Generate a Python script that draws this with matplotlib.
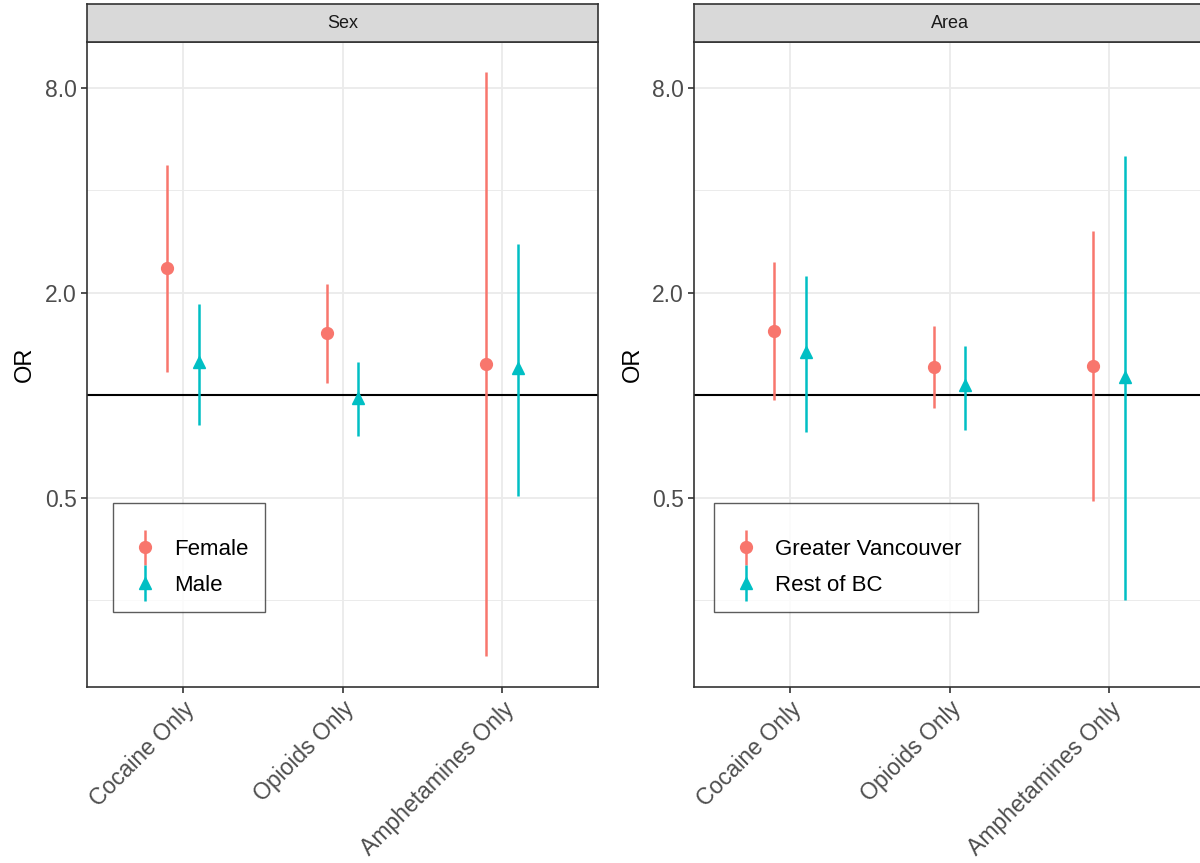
import matplotlib
matplotlib.use('Agg')
import matplotlib.pyplot as plt
import numpy as np
from matplotlib.ticker import FixedLocator, NullFormatter
from matplotlib.legend_handler import HandlerErrorbar

plt.rcParams['font.family'] = ['Liberation Sans', 'DejaVu Sans']

# data
categories = ['Cocaine Only', 'Opioids Only', 'Amphetamines Only']

sex_groups = ['Female', 'Male']
sex_or = [[2.37, 1.52, 1.24], [1.25, 0.98, 1.20]]
sex_lo = [[1.17, 1.09, 0.171], [0.82, 0.76, 0.507]]
sex_hi = [[4.74, 2.13, 8.91], [1.86, 1.25, 2.79]]

area_groups = ['Greater Vancouver', 'Rest of BC']
area_or = [[1.55, 1.21, 1.22], [1.34, 1.07, 1.13]]
area_lo = [[0.97, 0.92, 0.49], [0.78, 0.79, 0.25]]
area_hi = [[2.47, 1.60, 3.04], [2.24, 1.40, 5.05]]

colors = ['#F8766D', '#00BFC4']
markers = ['o', '^']

fig = plt.figure(figsize=(12, 8.63), dpi=100)

W, H = 1200, 863


def box(x0, y0, x1, y1):
    return [x0 / W, 1 - y1 / H, (x1 - x0) / W, (y1 - y0) / H]


def panel(x0, title, groups, ors, los, his, leg_x):
    ax = fig.add_axes(box(x0, 42, x0 + 511, 687))
    st = fig.add_axes(box(x0, 4, x0 + 511, 42))
    st.set_facecolor('#D9D9D9')
    st.set_xticks([])
    st.set_yticks([])
    for s in st.spines.values():
        s.set_color('#333333')
        s.set_linewidth(1.2)
    st.text(0.5, 0.5, title, ha='center', va='center', fontsize=13,
            color='#1A1A1A', transform=st.transAxes)

    ax.set_yscale('log', base=2)
    ax.set_ylim(0.139, 10.92)
    ax.set_xlim(-0.6, 2.6)
    x = np.arange(len(categories))
    ax.yaxis.set_major_locator(FixedLocator([0.5, 2, 8]))
    ax.yaxis.set_minor_locator(FixedLocator([0.25, 1, 4]))
    ax.yaxis.set_minor_formatter(NullFormatter())
    ax.set_yticklabels(['0.5', '2.0', '8.0'])
    ax.set_xticks(x)
    ax.set_xticklabels(categories, rotation=45, ha='right',
                       rotation_mode='anchor')
    ax.grid(which='major', color='#EBEBEB', lw=1.3)
    ax.grid(which='minor', axis='y', color='#EBEBEB', lw=0.7)
    ax.set_axisbelow(True)
    ax.axhline(1, color='black', lw=1.5, zorder=2)

    offs = [-0.1, 0.1]
    for i, g in enumerate(groups):
        o = np.array(ors[i])
        err = [o - np.array(los[i]), np.array(his[i]) - o]
        ax.errorbar(x + offs[i], o, yerr=err, fmt=markers[i], color=colors[i],
                    ms=8.5, elinewidth=1.8, capsize=0, label=g, zorder=3)

    ax.tick_params(axis='both', which='major', labelsize=16.5,
                   labelcolor='#4D4D4D', color='#333333', length=4, width=1.2)
    ax.tick_params(axis='y', which='minor', length=0)
    for s in ax.spines.values():
        s.set_color('#333333')
        s.set_linewidth(1.2)
    ax.set_ylabel('OR', fontsize=17, color='black', labelpad=6)

    leg = ax.legend(loc='lower left', bbox_to_anchor=(leg_x, 0.116),
                    borderaxespad=0, fontsize=16, frameon=True, fancybox=False,
                    edgecolor='#333333', handlelength=1.4, handletextpad=0.58,
                    borderpad=0.75, labelspacing=0.65,
                    title=' ', title_fontsize=3.5,
                    handler_map={type(ax.containers[0]): HandlerErrorbar(yerr_size=0.8)})
    leg.get_frame().set_linewidth(1.0)
    return ax


panel(87, 'Sex', sex_groups, sex_or, sex_lo, sex_hi, 0.051)
panel(694, 'Area', area_groups, area_or, area_lo, area_hi, 0.039)

fig.savefig('out.png', dpi=100)
